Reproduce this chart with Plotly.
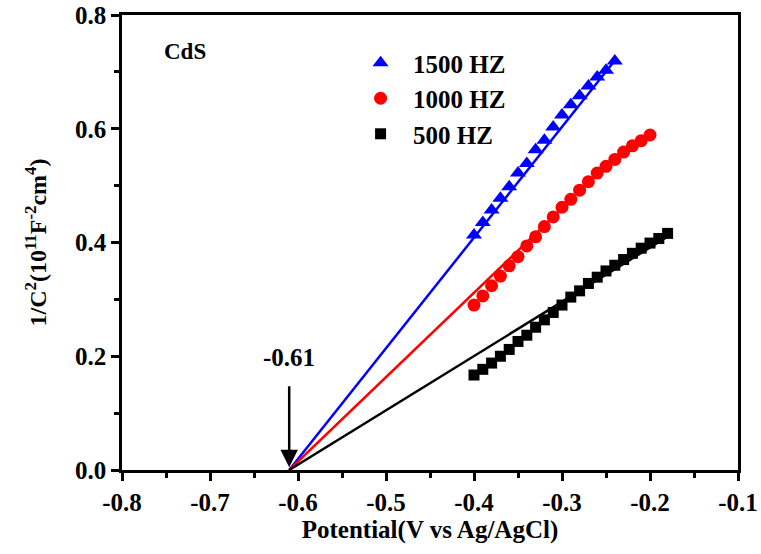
import plotly.graph_objects as go

# ---- data ----
x_1500 = [-0.40, -0.39, -0.38, -0.37, -0.36, -0.35, -0.34, -0.33, -0.32, -0.31,
          -0.30, -0.29, -0.28, -0.27, -0.26, -0.25, -0.24]
y_1500 = [0.413, 0.435, 0.457, 0.478, 0.498, 0.522, 0.539, 0.563, 0.580, 0.603,
          0.624, 0.642, 0.658, 0.675, 0.691, 0.703, 0.719]

x_1000 = [-0.40, -0.39, -0.38, -0.37, -0.36, -0.35, -0.34, -0.33, -0.32, -0.31,
          -0.30, -0.29, -0.28, -0.27, -0.26, -0.25, -0.24, -0.23, -0.22, -0.21, -0.20]
y_1000 = [0.290, 0.306, 0.324, 0.341, 0.359, 0.375, 0.394, 0.410, 0.428, 0.445,
          0.462, 0.476, 0.492, 0.507, 0.522, 0.534, 0.546, 0.559, 0.570, 0.579, 0.589]

x_500 = [-0.40, -0.39, -0.38, -0.37, -0.36, -0.35, -0.34, -0.33, -0.32, -0.31,
         -0.30, -0.29, -0.28, -0.27, -0.26, -0.25, -0.24, -0.23, -0.22, -0.21,
         -0.20, -0.19, -0.18]
y_500 = [0.167, 0.177, 0.188, 0.200, 0.212, 0.226, 0.237, 0.251, 0.264, 0.277,
         0.290, 0.304, 0.315, 0.328, 0.339, 0.350, 0.360, 0.370, 0.381, 0.390,
         0.399, 0.407, 0.416]

fit_1500_x = [-0.61, -0.24]
fit_1500_y = [0.0, 0.72]
fit_1000_x = [-0.61, -0.30]
fit_1000_y = [0.0, 0.46]
fit_500_x = [-0.61, -0.175]
fit_500_y = [0.0, 0.415]

flat_band = -0.61
x_ticks = [-0.8, -0.7, -0.6, -0.5, -0.4, -0.3, -0.2, -0.1]
y_ticks = [0.0, 0.2, 0.4, 0.6, 0.8]

FONT = "Liberation Serif"
FS = 25

fig = go.Figure()

# fit lines
fig.add_trace(go.Scatter(x=fit_1500_x, y=fit_1500_y, mode="lines",
                         line=dict(color="#0000ff", width=2.5), showlegend=False))
fig.add_trace(go.Scatter(x=fit_1000_x, y=fit_1000_y, mode="lines",
                         line=dict(color="#ff0000", width=2.5), showlegend=False))
fig.add_trace(go.Scatter(x=fit_500_x, y=fit_500_y, mode="lines",
                         line=dict(color="#000000", width=2.5), showlegend=False))

# data markers
fig.add_trace(go.Scatter(x=x_1500, y=y_1500, mode="markers", name="<b>1500 HZ</b>",
                         legendgroup="a",
                         marker=dict(symbol="triangle-up", size=14, color="#0000ff")))
fig.add_trace(go.Scatter(x=x_1000, y=y_1000, mode="markers", name="<b>1000 HZ</b>",
                         legendgroup="b",
                         marker=dict(symbol="circle", size=13, color="#ff0000")))
fig.add_trace(go.Scatter(x=x_500, y=y_500, mode="markers", name="<b>500 HZ</b>",
                         legendgroup="c",
                         marker=dict(symbol="square", size=11, color="#000000")))

axis_common = dict(
    showline=True, linecolor="black", linewidth=2.5, mirror=True,
    ticks="outside", ticklen=8, tickwidth=2.5, tickcolor="black",
    showgrid=False, zeroline=False, automargin=False,
    ticklabeloverflow="allow",
    tickfont=dict(family=FONT, size=FS, color="black"),
    minor=dict(ticks="outside", ticklen=5, tickwidth=2.5, tickcolor="black", showgrid=False),
)

fig.update_xaxes(range=[-0.8, -0.1], tickvals=x_ticks,
                 ticktext=[f"<b>{v:.1f}</b>" for v in x_ticks],
                 minor_dtick=0.05, minor_tick0=-0.8,
                 title=dict(text="<b>Potential(V vs Ag/AgCl)</b>",
                            font=dict(family=FONT, size=FS, color="black"), standoff=4),
                 **axis_common)
fig.update_yaxes(range=[0, 0.8], tickvals=y_ticks,
                 ticktext=[f"<b>{v:.1f}</b>" for v in y_ticks],
                 minor_dtick=0.1, minor_tick0=0,
                 title=dict(text="<b>1/C<sup>2</sup>(10<sup>11</sup>F<sup>-2</sup>cm<sup>4</sup>)</b>",
                            font=dict(family=FONT, size=FS - 1, color="black"), standoff=22),
                 **axis_common)

# arrow and label for flat-band potential
fig.add_annotation(x=flat_band, y=0.005, ax=flat_band, ay=0.15, xref="x", yref="y",
                   axref="x", ayref="y", showarrow=True, arrowhead=2, arrowsize=1.4,
                   arrowwidth=2.5, arrowcolor="black", text="")
fig.add_annotation(x=flat_band, y=0.197, xref="x", yref="y", showarrow=False,
                   xanchor="center", yanchor="middle",
                   text="<b>-0.61</b>", font=dict(family=FONT, size=FS, color="black"))
fig.add_annotation(x=0.102, y=0.919, xref="paper", yref="paper", showarrow=False,
                   xanchor="center", yanchor="middle",
                   text="<b>CdS</b>", font=dict(family=FONT, size=FS - 2, color="black"))

fig.update_layout(
    width=761, height=554,
    margin=dict(l=122, r=23, t=15, b=84),
    paper_bgcolor="white", plot_bgcolor="white",
    legend=dict(x=0.367, y=0.945, xanchor="left", yanchor="top",
                font=dict(family=FONT, size=FS, color="black"),
                bgcolor="rgba(0,0,0,0)", traceorder="grouped", tracegroupgap=0,
                itemwidth=55),
)

# remove the default page-body margin so the figure sits at the window's corner
fig.write_html("out.html", config={"displayModeBar": False},
               post_script="document.body.style.margin='0';document.body.style.padding='0';")
